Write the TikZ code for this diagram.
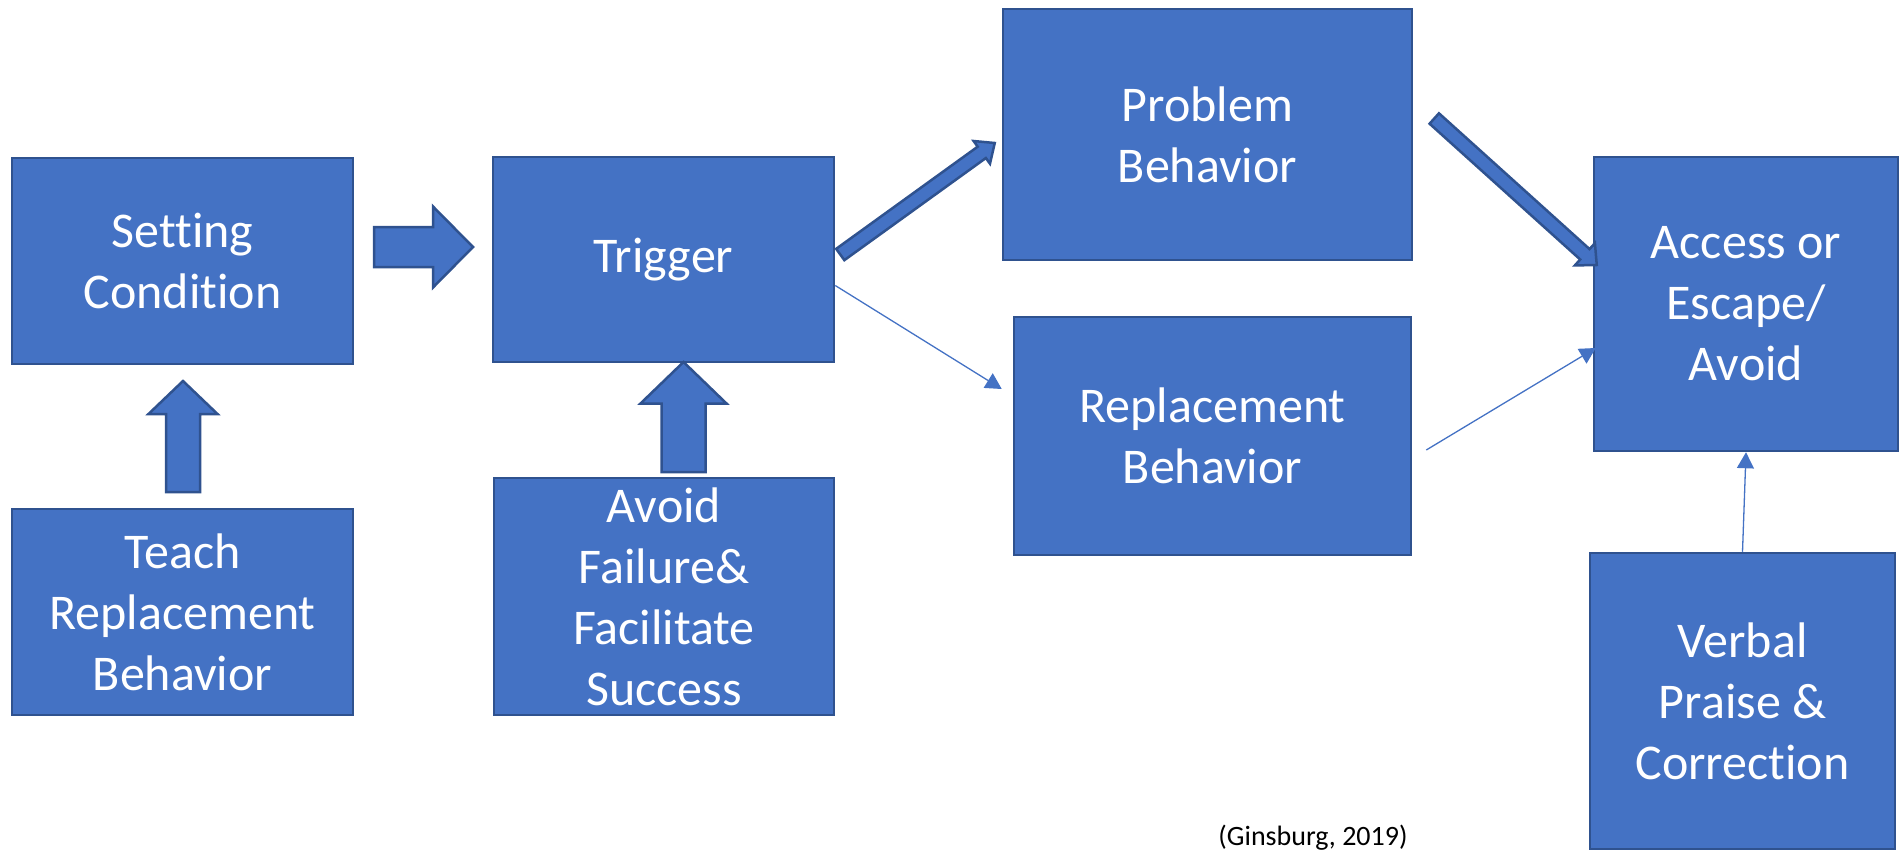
\documentclass[tikz,border=0pt]{standalone}
\usepackage{fontspec}
\setmainfont{Carlito}[Ligatures=NoCommon]
\usetikzlibrary{calc,arrows.meta}

\definecolor{boxfill}{HTML}{4472C4}
\definecolor{boxline}{HTML}{2F528F}

% block arrow: #1 shaft half-width, #2 head half-width, #3 head length, #4 tail, #5 tip
\newcommand{\blockarrow}[5]{%
  \path ($(#5)!#3!(#4)$) coordinate (headbase);
  \filldraw[blockarr]
    ($(#4)!#1!90:(#5)$) -- ($(headbase)!#1!-90:(#4)$) -- ($(headbase)!#2!-90:(#4)$)
    -- (#5) -- ($(headbase)!#2!90:(#4)$) -- ($(headbase)!#1!90:(#4)$)
    -- ($(#4)!#1!-90:(#5)$) -- cycle;}

\tikzset{
  box/.style={draw=boxline, fill=boxfill, line width=2.5pt, inner sep=0pt,
    text=white, align=center, font=\fontsize{50}{61}\selectfont},
  blockarr/.style={draw=boxline, fill=boxfill, line width=2.5pt, line join=miter},
  thinarr/.style={draw=boxfill, line width=1.3pt,
    -{Triangle[length=16pt,width=17pt]}},
}

\begin{document}
\begin{tikzpicture}[x=1pt,y=-1pt]
\useasboundingbox (0,0) rectangle (1902,851);

% boxes
\node[box, minimum width=341pt, minimum height=206pt] (sc) at (182.5,261) {Setting\\Condition};
\node[box, minimum width=341pt, minimum height=205pt] (trig) at (663.5,259.5) {Trigger};
\node[box, minimum width=409pt, minimum height=251pt] (prob) at (1207.5,134.5) {Problem\\Behavior};
\node[box, minimum width=397pt, minimum height=238pt] (rep) at (1212.5,436) {Replacement\\Behavior};
\node[box, minimum width=304pt, minimum height=294pt] (acc) at (1746,304) {Access or\\Escape/\\Avoid};
\node[box, minimum width=341pt, minimum height=206pt] (teach) at (182.5,612) {Teach\\Replacement\\Behavior};
\node[box, minimum width=340pt, minimum height=237pt] (avoid) at (664,596.5) {Avoid\\Failure\&\\Facilitate\\Success};
\node[box, minimum width=305pt, minimum height=296pt] (verbal) at (1742.5,701) {Verbal\\Praise \&\\Correction};

% citation
\node[font=\fontsize{28}{34}\selectfont, text=black, inner sep=0pt] (cite) at (1313,838) {(Ginsburg, 2019)};

% end points of the free-standing block arrows
\coordinate (scA) at (374,247);
\coordinate (scB) at (473,247);
\coordinate (teA) at (183,492);
\coordinate (teB) at (183,381);
\coordinate (avA) at (683.5,472);
\coordinate (avB) at (683.5,362);
\coordinate (trA) at ($(trig.east)+(5,-5)$);
\coordinate (trB) at ($(prob.west)+(-7,8.5)$);
\coordinate (prA) at ($(prob.east)+(21,-16)$);
\coordinate (prB) at ($(acc.west)+(4,-39)$);

\blockarrow{20pt}{40.5pt}{40pt}{scA}{scB}
\blockarrow{17pt}{34.5pt}{33pt}{teA}{teB}
\blockarrow{22pt}{43pt}{41.5pt}{avA}{avB}
\blockarrow{7pt}{14pt}{16pt}{trA}{trB}
\blockarrow{7pt}{15pt}{16pt}{prA}{prB}

% thin connectors
\coordinate (trOut) at ($(trig.east)+(0,26)$);
\coordinate (repIn) at ($(rep.west)+(-11,-47)$);
\coordinate (repOut) at ($(rep.east)+(14,14)$);
\coordinate (accIn) at ($(acc.west)+(3,44)$);
\draw[thinarr] (trOut) -- (repIn);
\draw[thinarr] (repOut) -- (accIn);
\draw[thinarr] (verbal.north) -- (acc.south);
\end{tikzpicture}
\end{document}
